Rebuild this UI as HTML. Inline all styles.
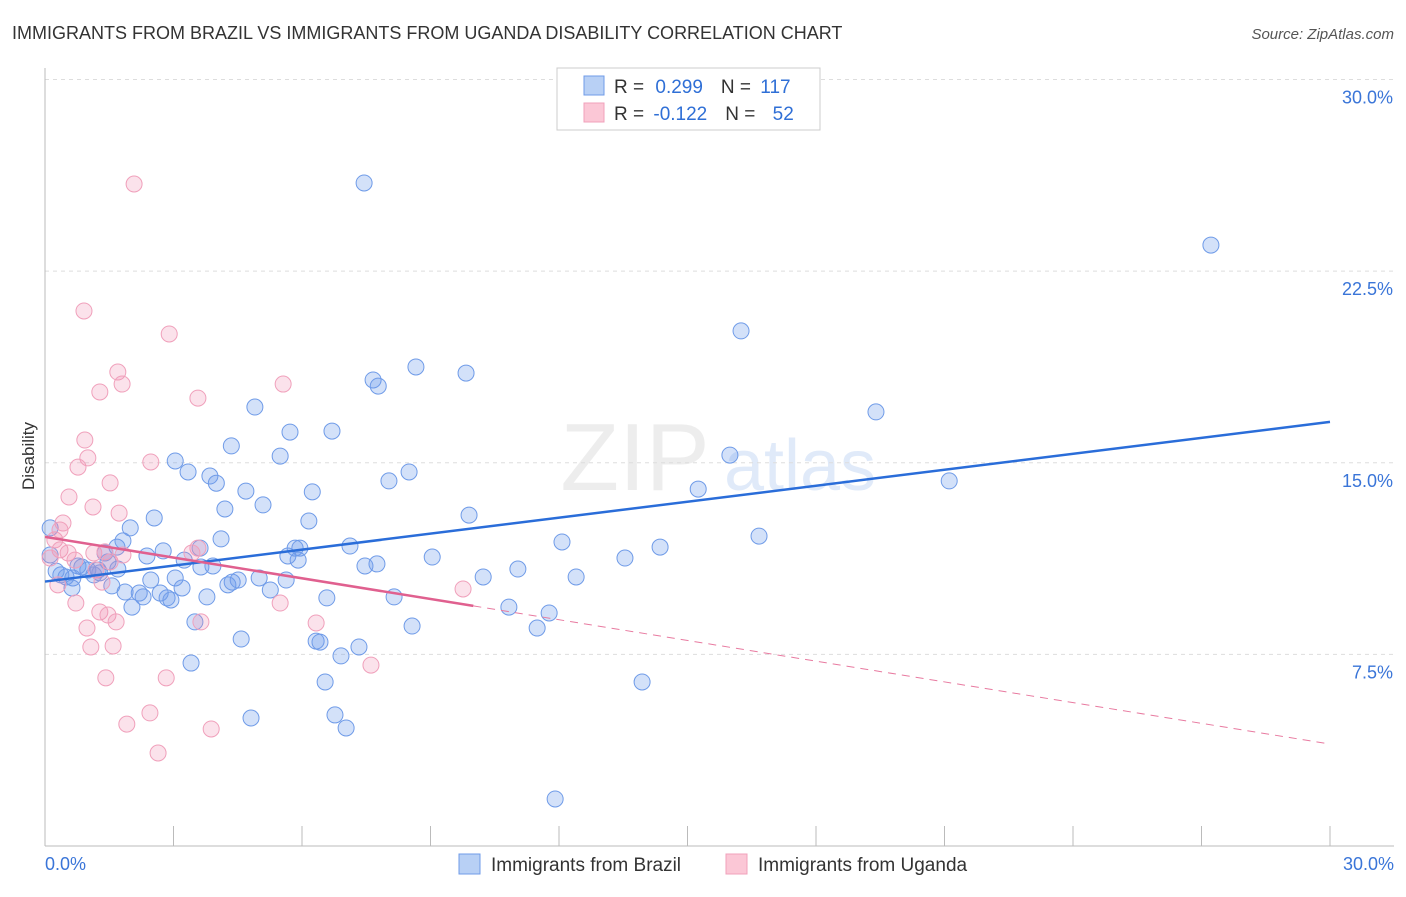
<!DOCTYPE html>
<html><head><meta charset="utf-8"><style>
body{margin:0;background:#fff;font-family:"Liberation Sans",sans-serif;}
svg text{font-family:"Liberation Sans",sans-serif;}
</style></head><body>
<svg id="chart" width="1406" height="892" xmlns="http://www.w3.org/2000/svg">
<text x="12" y="39" font-size="18" fill="#333">IMMIGRANTS FROM BRAZIL VS IMMIGRANTS FROM UGANDA DISABILITY CORRELATION CHART</text>
<text x="1394" y="39" font-size="15" fill="#555" font-style="italic" text-anchor="end">Source: ZipAtlas.com</text>
<text transform="translate(34,456) rotate(-90)" font-size="17" fill="#333" text-anchor="middle">Disability</text>
<g id="wm" opacity="0.35">
<text x="635" y="490" font-size="96" fill="#ccc" font-family="Liberation Serif" text-anchor="middle">ZIP</text>
<text x="800" y="490" font-size="72" fill="#a9c6ef" text-anchor="middle">atlas</text>
</g>
<g id="grid"></g><g id="axes"></g><g id="pts"></g><g id="trend"></g>
<g>
<rect x="557" y="68" width="263" height="62" fill="#fff" stroke="#ccc"/>
<rect x="584" y="76" width="20" height="19" fill="#b8d0f5" stroke="#6f9be8"/>
<rect x="584" y="103" width="20" height="19" fill="#fbc7d6" stroke="#f0a0bb"/>
<text x="614" y="93" font-size="19" fill="#333">R = <tspan fill="#2f6fd6" dx="6">0.299</tspan><tspan dx="18">N = </tspan><tspan fill="#2f6fd6" dx="4">117</tspan></text>
<text x="614" y="120" font-size="19" fill="#333">R = <tspan fill="#2f6fd6" dx="4">-0.122</tspan><tspan dx="18">N = </tspan><tspan fill="#2f6fd6" dx="12">52</tspan></text>
</g>
<g>
<rect x="459" y="854" width="21" height="20" fill="#b8d0f5" stroke="#6f9be8"/>
<text x="491" y="871" font-size="19" fill="#333">Immigrants from Brazil</text>
<rect x="726" y="854" width="21" height="20" fill="#fbc7d6" stroke="#f0a0bb"/>
<text x="758" y="871" font-size="19" fill="#333">Immigrants from Uganda</text>
</g>
</svg>
<script>
const yTicks=[7.5,15,22.5,30];
const yTickLabels=["7.5%","15.0%","22.5%","30.0%"];
const xTicks=[0,3,6,9,12,15,18,21,24,27,30];
const brazilX=[7.45,27.22,16.25,19.40,21.11,15.99,15.25,16.67,14.36,13.54,12.07,12.40,11.04,10.23,11.77,11.49,10.83,13.94,11.91,8.66,9.83,7.66,7.78,8.50,8.03,6.70,5.72,4.90,5.49,4.35,6.24,9.90,6.16,5.09,4.69,3.85,4.0,3.34,3.04,4.20,4.11,2.55,1.99,1.68,1.82,1.40,2.38,2.76,3.25,3.62,3.64,3.92,4.27,4.51,5.0,5.26,5.63,5.67,5.84,5.95,5.91,7.12,7.47,7.75,9.04,8.15,6.58,8.57,6.33,6.42,7.33,6.91,6.54,6.77,7.03,4.81,4.58,3.41,3.50,3.78,3.04,3.20,2.85,2.94,2.69,2.29,2.47,2.20,2.03,1.87,1.56,1.70,1.47,1.24,1.14,1.00,0.86,0.77,0.65,0.49,0.37,0.63,0.26,0.12,0.12,1.28,4.37];
const brazilY=[25.95,23.52,20.16,16.99,14.29,15.30,13.97,12.13,11.70,11.27,11.90,10.53,10.84,10.53,9.12,8.53,9.35,6.42,1.84,18.75,18.51,18.24,18.00,14.64,14.29,16.24,16.20,17.18,15.26,15.66,13.86,12.95,12.72,13.35,13.89,14.48,14.2,14.64,15.07,13.19,12.02,12.84,12.45,11.70,11.94,11.47,11.35,11.55,11.19,11.66,10.92,10.96,10.22,10.41,10.49,10.02,10.41,11.35,11.66,11.66,11.19,11.74,10.96,11.04,11.31,9.75,9.71,8.61,8.02,7.98,7.79,7.44,6.42,5.13,4.62,5.01,8.10,7.16,8.77,9.75,10.49,10.10,9.71,9.63,9.90,9.75,10.41,9.90,9.35,9.94,10.18,10.84,11.12,10.80,10.61,10.80,10.92,10.96,10.49,10.53,10.61,10.10,10.76,11.39,12.45,10.69,10.33];
const ugandaX=[2.08,0.91,2.90,1.70,1.80,1.28,3.57,5.56,0.93,1.00,0.77,2.47,1.52,0.56,1.12,1.73,0.42,0.23,0.35,0.54,0.70,1.14,1.40,1.52,1.82,0.12,0.30,1.19,1.33,0.72,1.28,1.47,1.66,0.98,1.07,1.59,1.42,2.83,1.91,2.45,2.64,3.88,3.64,3.57,3.43,5.49,6.33,7.61,9.76,0.35];
const ugandaY=[25.91,20.94,20.04,18.55,18.08,17.77,17.53,18.08,15.89,15.19,14.83,15.03,14.21,13.66,13.27,13.03,12.64,11.98,11.59,11.47,11.19,11.47,11.51,11.12,11.39,11.27,10.22,10.80,10.33,9.51,9.16,9.04,8.77,8.53,7.79,7.83,6.58,6.58,4.77,5.21,3.64,4.58,8.77,11.66,11.47,9.51,8.73,7.08,10.06,12.37];
const brazilTrend=[10.35,16.6];
const ugandaTrend=[12.1,3.99];
const ugandaSolidEnd=10.0;

const X=v=>45+v*(1285/30), Y=v=>846-v*25.55;
const NS="http://www.w3.org/2000/svg";
function mk(t,a,p){const e=document.createElementNS(NS,t);for(const k in a)e.setAttribute(k,a[k]);p.appendChild(e);return e;}
const grid=document.getElementById('grid'),axes=document.getElementById('axes'),pts=document.getElementById('pts'),tr=document.getElementById('trend');
yTicks.forEach((t,i)=>{
 const l=mk('line',{x1:45,x2:1394,y1:Y(t),y2:Y(t),stroke:'#ddd','stroke-dasharray':'4,4'},grid);
 
 
 const tx=mk('text',{x:1393,y:Y(t)+24,'font-size':18,fill:'#3a75d8','text-anchor':'end'},axes);
 tx.textContent=yTickLabels[i];
 
 
});
const ya=mk('line',{x1:45,x2:45,y1:68,y2:846,stroke:'#bbb'},axes);


const xa=mk('line',{x1:45,x2:1394,y1:846,y2:846,stroke:'#bbb'},axes);


xTicks.forEach(t=>{
 const l=mk('line',{x1:X(t),x2:X(t),y1:826,y2:846,stroke:'#bbb'},axes);
 
 
});
[[0,'0.0%','start',45],[30,'30.0%','end',1394]].forEach(a=>{
 const tx=mk('text',{x:a[3],y:870,'font-size':18,fill:'#3a75d8','text-anchor':a[2]},axes);
 tx.textContent=a[1];
 
 
});
function dots(xs,ys,fill,stroke,name){xs.forEach((x,i)=>{
 const c=mk('circle',{cx:X(x),cy:Y(ys[i]),r:8,fill:fill,stroke:stroke,'stroke-width':1},pts);
 
 
});}
dots(brazilX,brazilY,'rgba(110,155,235,0.3)','#6f9be8','brazil-point');
dots(ugandaX,ugandaY,'rgba(240,140,175,0.25)','#f0a0bb','uganda-point');
const bl=mk('line',{x1:X(0),y1:Y(brazilTrend[0]),x2:X(30),y2:Y(brazilTrend[1]),stroke:'#2a6dd9','stroke-width':2.5},tr);


const uy=v=>ugandaTrend[0]+(ugandaTrend[1]-ugandaTrend[0])*v/30;
const us=mk('line',{x1:X(0),y1:Y(uy(0)),x2:X(ugandaSolidEnd),y2:Y(uy(ugandaSolidEnd)),stroke:'#e0608f','stroke-width':2.5},tr);


const ud=mk('line',{x1:X(ugandaSolidEnd),y1:Y(uy(ugandaSolidEnd)),x2:X(30),y2:Y(uy(30)),stroke:'#e87aa0','stroke-width':1,'stroke-dasharray':'8,6'},tr);


</script>
</body></html>
